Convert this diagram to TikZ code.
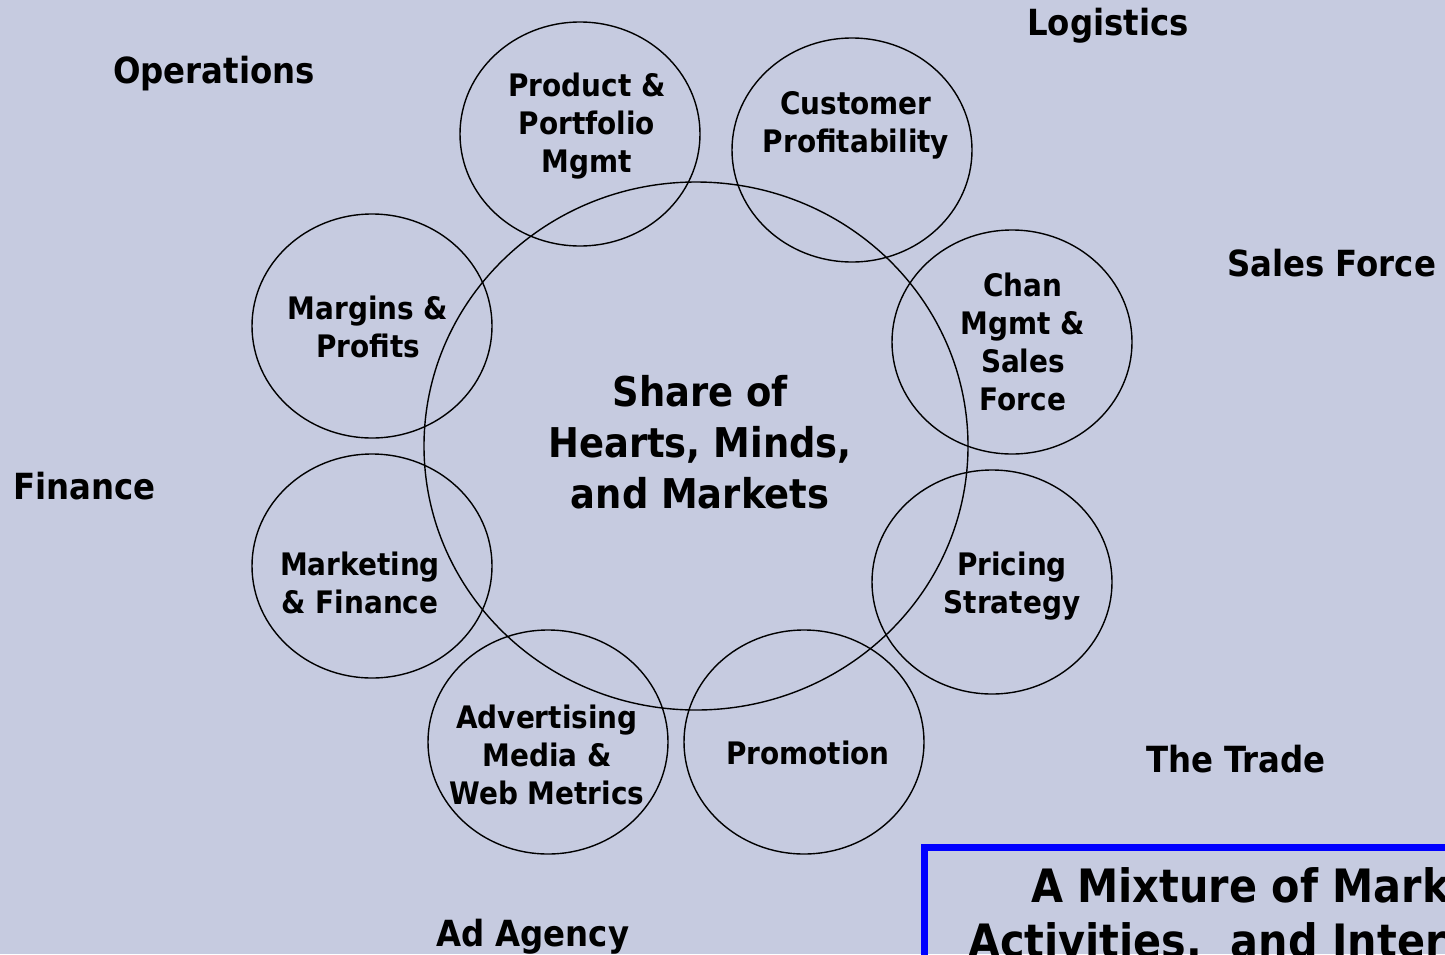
\documentclass[tikz,border=0pt]{standalone}
\usepackage{fontspec}
\newfontfamily\labelfont{DejaVu Sans Condensed Bold}
\usetikzlibrary{shapes.geometric}
\definecolor{canvas}{RGB}{198,203,224}
\definecolor{framecol}{RGB}{0,0,255}
\begin{document}
\begin{tikzpicture}[x=1pt,y=-1pt,
  ring/.style={draw=black, line width=1.4pt, ellipse, inner sep=0pt,
               minimum width=240pt, minimum height=224pt},
  hub/.style={ring, minimum width=544pt, minimum height=528pt},
  ringtext/.style={font=\labelfont\fontsize{31}{38}\selectfont, align=center, inner sep=0pt},
  hubtext/.style={font=\labelfont\fontsize{41}{51}\selectfont, align=center, inner sep=0pt},
  party/.style={font=\labelfont\fontsize{36}{40}\selectfont, inner sep=0pt, anchor=base west},
  banner/.style={font=\labelfont\fontsize{46}{54}\selectfont, inner sep=0pt, anchor=base west}
]
\clip (0,0) rectangle (1445,954);
\fill[canvas] (0,0) rectangle (1445,954);

% central hub and the eight surrounding disciplines
\node[hub] (hub) at (696,446) {};
\node[ring] (prod) at (580,134) {};
\node[ring] (cust) at (852,150) {};
\node[ring] (chan) at (1012,342) {};
\node[ring] (price) at (992,582) {};
\node[ring] (promo) at (804,742) {};
\node[ring] (adv) at (548,742) {};
\node[ring] (mfin) at (372,566) {};
\node[ring] (marg) at (372,326) {};

\node[hubtext] (hubt) at (700,442) {Share of\\Hearts, Minds,\\and Markets};
\node[ringtext] (prodt) at (587,126) {Product \&\\Portfolio\\Mgmt};
\node[ringtext] (custt) at (856,125) {Customer\\Profitability};
\node[ringtext] (chant) at (1023,342) {Chan\\Mgmt \&\\Sales\\Force};
\node[ringtext] (pricet) at (1012,586) {Pricing\\Strategy};
\node[ringtext] (promot) at (808,753) {Promotion};
\node[ringtext] (advt) at (547,755) {Advertising\\Media \&\\Web Metrics};
\node[ringtext] (mfint) at (360,583) {Marketing\\\& Finance};
\node[ringtext] (margt) at (368,327) {Margins \&\\Profits};

% outside parties
\node[party] (logi) at (1027,35) {Logistics};
\node[party] (oper) at (113,83) {Operations};
\node[party] (sales) at (1227,276) {Sales Force};
\node[party] (fin) at (13,499) {Finance};
\node[party] (trade) at (1146,772) {The Trade};
\node[party] (agency) at (436,946) {Ad Agency};

% framed caption, running past the right and bottom edges
\draw[framecol, line width=7pt] (924,847) rectangle (1520,1020);
\node[banner] (cap1) at (1031,902) {A Mixture of Marketing};
\node[banner] (cap2) at (968,957) {Activities,\ \ and Internal};
\end{tikzpicture}
\end{document}
